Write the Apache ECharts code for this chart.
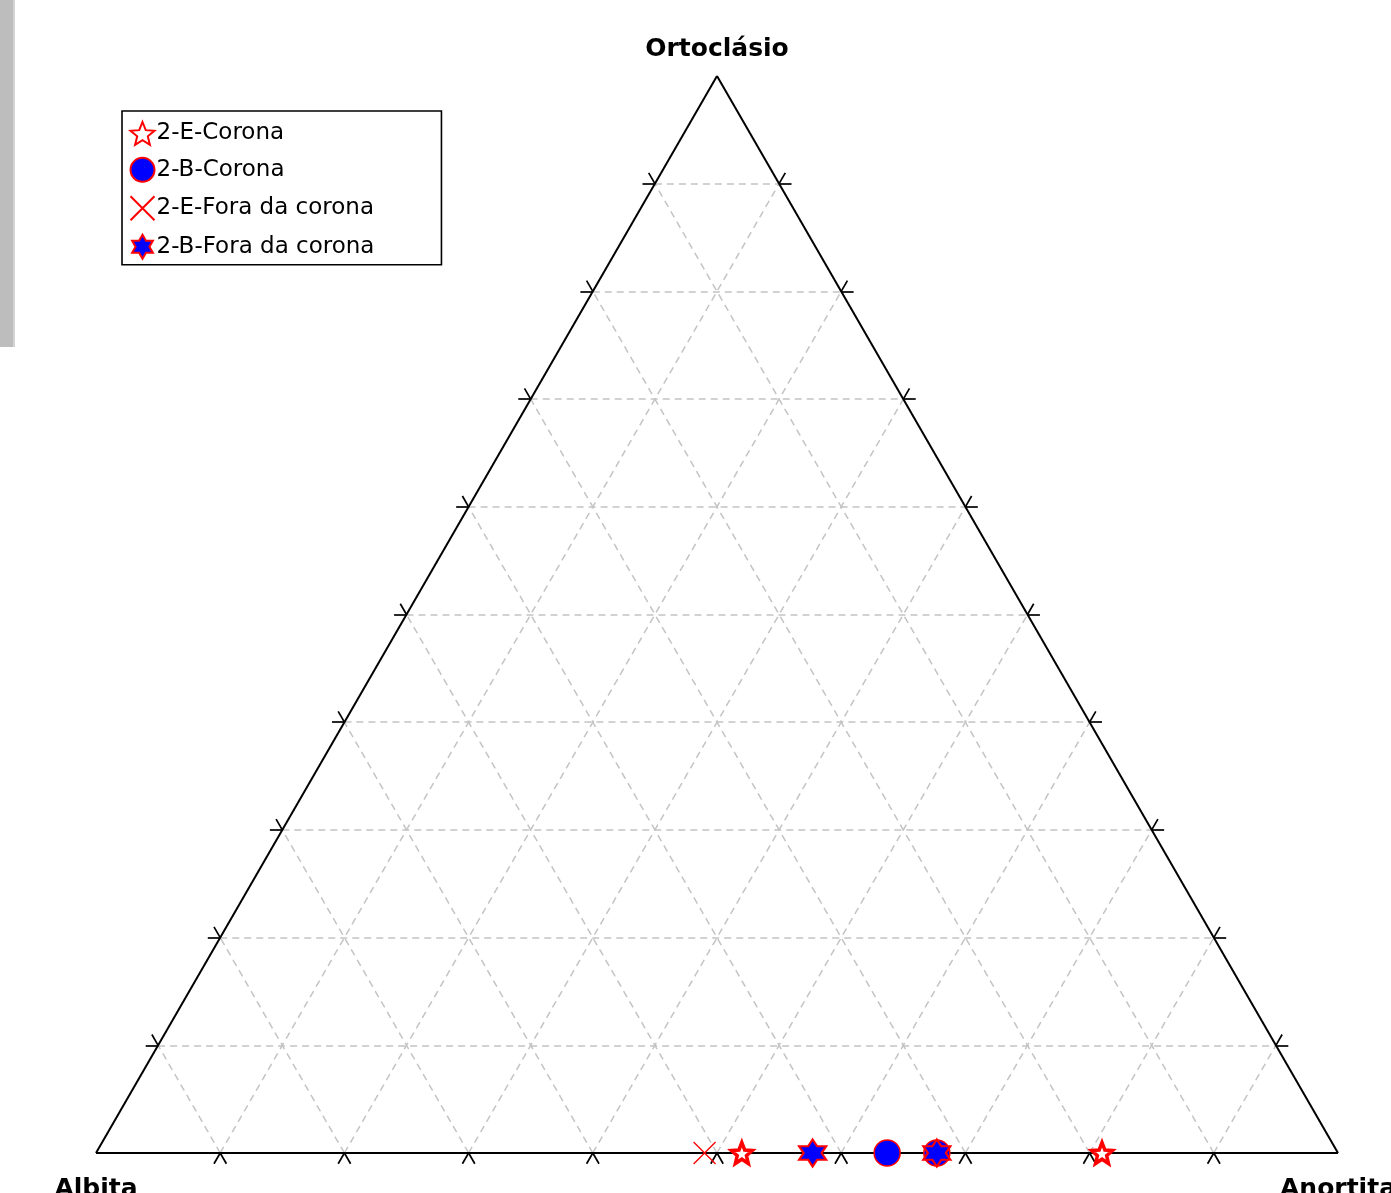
<!DOCTYPE html>
<html>
<head>
<meta charset="utf-8">
<script src="https://cdn.jsdelivr.net/npm/echarts@6/dist/echarts.min.js"></script>
<style>
html,body{margin:0;padding:0;background:#fff;}
#chart{width:1391px;height:1193px;}
</style>
</head>
<body>
<div id="chart"></div>
<script>
// ---- data (ternary percentages: Anortita, Ortoclásio; Albita = 100 - An - Or) ----
const CORNER_LABELS = ['Albita', 'Anortita', 'Ortoclásio'];
const SERIES_NAMES = ['2-E-Corona', '2-B-Corona', '2-E-Fora da corona', '2-B-Fora da corona'];
const TICK_VALUES = [10, 20, 30, 40, 50, 60, 70, 80, 90];

const E_CORONA_AN = [52.0, 81.0];
const E_CORONA_OR = [0, 0];
const B_CORONA_AN = [63.7, 67.7];
const B_CORONA_OR = [0, 0];
const E_FORA_AN = [49.0];
const E_FORA_OR = [0];
const B_FORA_AN = [57.7, 67.7];
const B_FORA_OR = [0, 0];

// ---- helpers ----
const H = Math.sqrt(3) / 2;
function tern(an, or) { return [an + or / 2, or * H]; }
function pts(anArr, orArr) { return anArr.map((a, i) => tern(a, orArr[i])); }

function starPath(n, R, r) {
  let d = '';
  for (let i = 0; i < 2 * n; i++) {
    const ang = -Math.PI / 2 + i * Math.PI / n;
    const rad = i % 2 === 0 ? R : r;
    const x = (R + rad * Math.cos(ang)).toFixed(3);
    const y = (R + rad * Math.sin(ang)).toFixed(3);
    d += (i === 0 ? 'M' : 'L') + x + ',' + y;
  }
  return 'path://' + d + 'Z';
}
const STAR5 = starPath(5, 10, 4.4);
const STAR6 = starPath(6, 10, 10 / Math.sqrt(3));
const XMARK = 'path://M0,0L10,10M10,0L0,10';

const gridLines = [];
TICK_VALUES.forEach(v => {
  gridLines.push({ coords: [tern(0, v), tern(100 - v, v)] });
  gridLines.push({ coords: [tern(v, 0), tern(v, 100 - v)] });
  gridLines.push({ coords: [tern(100 - v, 0), tern(0, 100 - v)] });
});
const edges = [
  { coords: [tern(0, 0), tern(100, 0)] },
  { coords: [tern(100, 0), tern(0, 100)] },
  { coords: [tern(0, 100), tern(0, 0)] }
];
const L = 1.0;
const ticks = [];
TICK_VALUES.forEach(v => {
  const b = tern(v, 0);
  ticks.push({ coords: [b, [b[0] - L / 2, b[1] - L * H]] });
  ticks.push({ coords: [b, [b[0] + L / 2, b[1] - L * H]] });
  const l = tern(0, v);
  ticks.push({ coords: [l, [l[0] - L, l[1]]] });
  ticks.push({ coords: [l, [l[0] - L / 2, l[1] + L * H]] });
  const r = tern(100 - v, v);
  ticks.push({ coords: [r, [r[0] + L, r[1]]] });
  ticks.push({ coords: [r, [r[0] + L / 2, r[1] + L * H]] });
});

const chart = echarts.init(document.getElementById('chart'), null, { renderer: 'canvas' });

const option = {
  animation: false,
  backgroundColor: '#fff',
  grid: { left: 96, top: 76, width: 1242, height: 1077, show: false },
  xAxis: { type: 'value', min: 0, max: 100, show: false },
  yAxis: { type: 'value', min: 0, max: 100 * H, show: false },
  legend: {
    data: SERIES_NAMES,
    orient: 'vertical',
    left: 122, top: 111,
    padding: [10, 67, 5, 6],
    itemWidth: 24, itemHeight: 24, itemGap: 11,
    backgroundColor: '#fff',
    borderColor: '#000', borderWidth: 1.6,
    textStyle: { fontFamily: 'DejaVu Sans', fontSize: 23, color: '#000', padding: [0, 0, 0, -3] },
    selectedMode: false
  },
  series: [
    { type: 'lines', coordinateSystem: 'cartesian2d', silent: true, clip: false, z: 1,
      lineStyle: { color: '#c4c4c4', width: 1.5, type: [7, 5], opacity: 1 }, data: gridLines },
    { type: 'lines', coordinateSystem: 'cartesian2d', silent: true, clip: false, z: 2,
      lineStyle: { color: '#000', width: 2, opacity: 1 }, data: edges },
    { type: 'lines', coordinateSystem: 'cartesian2d', silent: true, clip: false, z: 2,
      lineStyle: { color: '#000', width: 1.7, opacity: 1 }, data: ticks },
    { name: SERIES_NAMES[0], type: 'scatter', clip: false, z: 5, symbol: STAR5, symbolSize: 21,
      itemStyle: { color: '#fff', borderColor: '#ff0000', borderWidth: 3.5, opacity: 1 },
      data: pts(E_CORONA_AN, E_CORONA_OR) },
    { name: SERIES_NAMES[1], type: 'scatter', clip: false, z: 5, symbol: 'circle', symbolSize: 26,
      itemStyle: { color: '#0000ff', borderColor: '#ff0000', borderWidth: 1.5, opacity: 1 },
      data: pts(B_CORONA_AN, B_CORONA_OR) },
    { name: SERIES_NAMES[2], type: 'scatter', clip: false, z: 5, symbol: XMARK, symbolSize: 22,
      itemStyle: { color: 'none', borderColor: '#ff0000', borderWidth: 1.3, opacity: 1 },
      data: pts(E_FORA_AN, E_FORA_OR) },
    { name: SERIES_NAMES[3], type: 'scatter', clip: false, z: 6, symbol: STAR6, symbolSize: 27,
      itemStyle: { color: '#0000ff', borderColor: '#ff0000', borderWidth: 2.2, opacity: 1 },
      data: pts(B_FORA_AN, B_FORA_OR) }
  ]
};
chart.setOption(option);

// corner labels positioned from the grid's own coordinate conversion
const vAb = chart.convertToPixel({ gridIndex: 0 }, tern(0, 0));
const vAn = chart.convertToPixel({ gridIndex: 0 }, tern(100, 0));
const vOr = chart.convertToPixel({ gridIndex: 0 }, tern(0, 100));
const txt = (s, p, dy) => ({
  type: 'text', x: p[0], y: p[1] + dy, silent: true, z: 10,
  style: { text: s, fill: '#000', font: 'bold 25px "DejaVu Sans"', textAlign: 'center', textVerticalAlign: 'middle' }
});
chart.setOption({
  graphic: [
    { type: 'rect', left: 0, top: 0, shape: { width: 15, height: 347 }, style: { fill: '#bdbdbd' }, silent: true },
    { type: 'rect', left: 13, top: 0, shape: { width: 2, height: 347 }, style: { fill: '#d4d4d4' }, silent: true },
    txt(CORNER_LABELS[0], vAb, 36),
    txt(CORNER_LABELS[1], vAn, 36),
    txt(CORNER_LABELS[2], vOr, -27)
  ]
});
</script>
</body>
</html>
